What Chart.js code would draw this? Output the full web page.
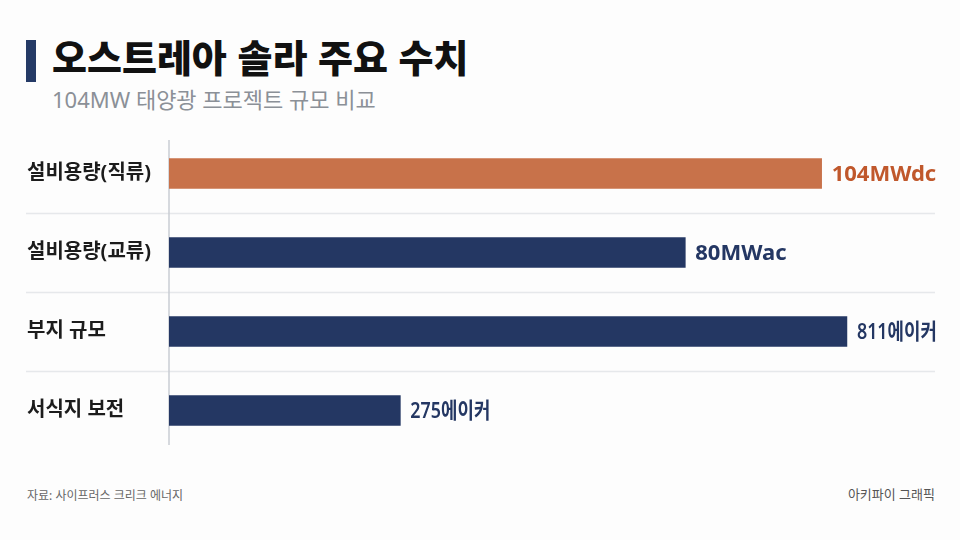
<!DOCTYPE html>
<html lang="ko">
<head>
<meta charset="utf-8">
<script src="https://cdn.jsdelivr.net/npm/chart.js@4/dist/chart.umd.min.js"></script>
<style>
  html, body { margin: 0; padding: 0; }
  body {
    width: 960px; height: 540px; position: relative; overflow: hidden;
    background: #fdfdfd;
    font-family: "Noto Sans", "Noto Sans CJK KR", sans-serif;
  }
  .accent { position: absolute; left: 26px; top: 40px; width: 10px; height: 42px; background: #253a66; }
  .title {
    position: absolute; left: 52px; top: 28px; margin: 0;
    font-family: "Noto Sans CJK KR", sans-serif;
    font-size: 38px; font-weight: 900; color: #111; line-height: 56px; letter-spacing: 0;
  }
  .subtitle {
    position: absolute; left: 52px; top: 84px; margin: 0;
    font-size: 22px; font-weight: 400; color: #8b9097; line-height: 30px;
  }
  .chart-box { position: absolute; left: 0; top: 134px; width: 960px; height: 316px; }
  .source { position: absolute; left: 27px; top: 486px; font-size: 12px; color: #666; }
  .credit { position: absolute; right: 25px; top: 484px; font-size: 13px; color: #555; }
</style>
</head>
<body>
<div class="accent"></div>
<h1 class="title">오스트레아 솔라 주요 수치</h1>
<p class="subtitle">104MW 태양광 프로젝트 규모 비교</p>
<div class="chart-box"><canvas id="chart"></canvas></div>
<div class="source">자료: 사이프러스 크리크 에너지</div>
<div class="credit">아키파이 그래픽</div>

<script>
const categories = ['설비용량(직류)', '설비용량(교류)', '부지 규모', '서식지 보전'];
// mixed units, so the bars are drawn as a relative length (0-100)
const barLengths = [85.2, 67.4, 88.5, 30.2];
const valueLabels = ['104MWdc', '80MWac', '811에이커', '275에이커'];
const barColors = ['#c8724a', '#243763', '#243763', '#243763'];
const labelColors = ['#c0582c', '#243763', '#243763', '#243763'];

const FONT = '"Noto Sans", "Noto Sans CJK KR", sans-serif';

// row separators, the short axis line and value text at the end of each bar
const extras = {
    id: 'extras',
    beforeDatasetsDraw(chart) {
        const { ctx, chartArea, scales: { y } } = chart;
        ctx.save();
        ctx.strokeStyle = '#e6e8eb';
        ctx.lineWidth = 1.5;
        for (let i = 0; i < categories.length - 1; i++) {
            const py = Math.round((y.getPixelForValue(i) + y.getPixelForValue(i + 1)) / 2) + 0.5;
            ctx.beginPath();
            ctx.moveTo(26, py);
            ctx.lineTo(935, py);
            ctx.stroke();
        }
        ctx.strokeStyle = '#c9cdd3';
        ctx.beginPath();
        ctx.moveTo(chartArea.left, chartArea.top + 6);
        ctx.lineTo(chartArea.left, chartArea.bottom - 5);
        ctx.stroke();
        ctx.restore();
    },
    afterDatasetsDraw(chart) {
        const { ctx } = chart;
        const meta = chart.getDatasetMeta(0);
        ctx.save();
        ctx.textBaseline = 'middle';
        ctx.textAlign = 'left';
        meta.data.forEach((bar, i) => {
            const text = valueLabels[i];
            ctx.fillStyle = labelColors[i];
            if (/[가-힣]/.test(text)) {
                // the hangul labels are set narrower in the original
                ctx.font = `600 22px ${FONT}`;
                ctx.fillText(text, bar.x + 10, bar.y + 1, 80);
            } else {
                ctx.font = `700 22px ${FONT}`;
                ctx.fillText(text, bar.x + 10, bar.y + 1);
            }
        });
        ctx.restore();
    }
};

new Chart(document.getElementById('chart'), {
    type: 'bar',
    data: {
        labels: categories,
        datasets: [{
            data: barLengths,
            backgroundColor: barColors,
            borderWidth: 0,
            barThickness: 30
        }]
    },
    options: {
        indexAxis: 'y',
        responsive: true,
        maintainAspectRatio: false,
        animation: false,
        layout: { padding: { left: 27, right: 25, top: 0, bottom: 0 } },
        plugins: {
            legend: { display: false },
            tooltip: { enabled: false }
        },
        scales: {
            x: {
                min: 0,
                max: 100,
                display: false
            },
            y: {
                afterFit: (scale) => {
                    scale.width = 142;
                    scale.paddingTop = 0;
                    scale.paddingBottom = 0;
                },
                grid: { display: false, drawTicks: false },
                border: { display: false },
                ticks: {
                    crossAlign: 'far',
                    padding: 0,
                    color: '#1c1c1c',
                    font: { family: FONT, size: 20, weight: '700' }
                }
            }
        }
    },
    plugins: [extras]
});
</script>
</body>
</html>
